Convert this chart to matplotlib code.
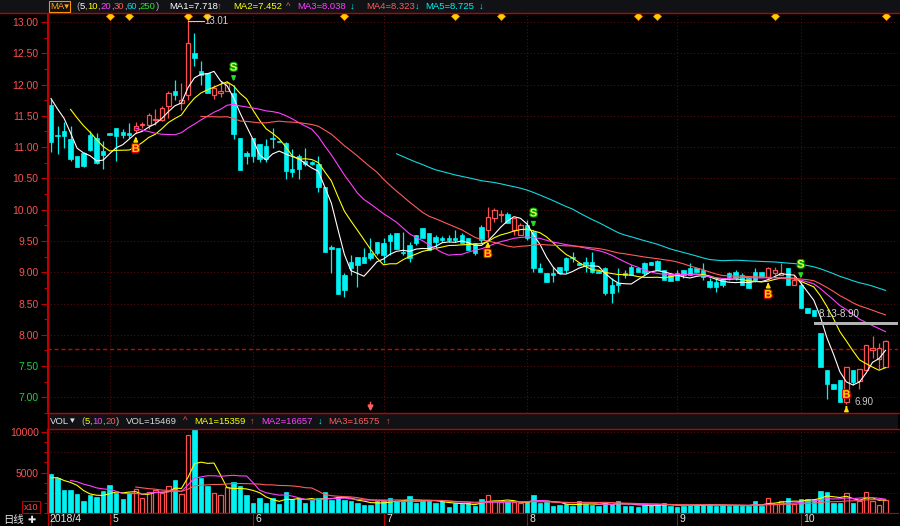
import numpy as np
import pandas as pd
import matplotlib.pyplot as plt
import matplotlib.patheffects as pe
from matplotlib.lines import Line2D
from matplotlib.patches import Rectangle

# ---- daily K-line data (visible window, 2018/4 .. 2018/10) ----
opens = [11.68, 11.20, 11.26, 11.13, 10.85, 10.90, 11.20, 11.15, 10.93, 11.23,
         11.30, 11.24, 11.22, 11.28, 11.35, 11.36, 11.43, 11.44, 11.66, 11.89,
         11.70, 11.84, 12.51, 12.21, 12.18, 11.83, 11.86, 11.89, 11.87, 11.15,
         10.90, 11.15, 11.05, 11.02, 11.15, 11.10, 11.07, 10.65, 10.86, 10.78,
         10.76, 10.73, 10.36, 9.40, 9.39, 8.95, 9.16, 9.25, 9.25, 9.30,
         9.49, 9.46, 9.60, 9.62, 9.33, 9.44, 9.59, 9.70, 9.62, 9.56,
         9.55, 9.54, 9.55, 9.59, 9.54, 9.46, 9.72, 9.67, 9.86, 9.91,
         9.93, 9.67, 9.59, 9.75, 9.65, 9.06, 8.98, 8.99, 9.09, 9.22,
         9.25, 9.14, 9.16, 9.17, 9.02, 9.06, 8.79, 8.83, 8.99, 9.08,
         9.06, 9.14, 9.17, 9.18, 9.04, 8.96, 8.98, 9.04, 9.06, 9.06,
         9.04, 8.86, 8.84, 8.87, 8.98, 9.01, 8.96, 8.90, 9.01, 9.00,
         8.93, 8.98, 8.96, 9.06, 8.80, 8.80, 8.43, 8.40, 8.03, 7.43,
         7.21, 7.27, 6.93, 7.43, 7.26, 7.43, 7.76, 7.61, 7.48]
highs = [11.77, 11.34, 11.40, 11.34, 10.85, 10.92, 11.25, 11.23, 11.10, 11.23,
         11.31, 11.29, 11.39, 11.40, 11.40, 11.55, 11.61, 11.66, 11.89, 12.08,
         12.02, 13.01, 12.82, 12.37, 12.18, 12.00, 12.05, 12.05, 12.00, 11.15,
         10.94, 11.15, 11.05, 11.13, 11.31, 11.10, 11.08, 10.97, 10.89, 10.99,
         10.78, 10.86, 10.36, 9.43, 9.39, 8.99, 9.27, 9.25, 9.38, 9.54,
         9.49, 9.55, 9.62, 9.62, 9.65, 9.49, 9.59, 9.70, 9.62, 9.59,
         9.58, 9.59, 9.67, 9.62, 9.54, 9.46, 9.75, 10.04, 10.03, 9.99,
         9.96, 9.86, 9.78, 9.83, 9.67, 9.14, 8.98, 9.09, 9.09, 9.25,
         9.33, 9.14, 9.25, 9.33, 9.02, 9.09, 8.90, 9.06, 9.04, 9.12,
         9.06, 9.17, 9.17, 9.20, 9.04, 8.96, 9.04, 9.04, 9.14, 9.06,
         9.14, 8.90, 8.93, 8.90, 9.01, 9.04, 8.98, 8.90, 9.07, 9.00,
         9.09, 9.09, 9.14, 9.06, 8.96, 8.85, 8.43, 8.40, 8.03, 7.43,
         7.21, 7.27, 7.49, 7.43, 7.45, 7.83, 7.98, 7.87, 7.92]
lows = [10.92, 10.89, 10.98, 10.78, 10.68, 10.68, 10.93, 10.73, 10.65, 11.19,
        10.78, 11.15, 11.15, 11.22, 11.30, 11.29, 11.36, 11.42, 11.47, 11.76,
        11.60, 11.76, 12.29, 12.00, 11.87, 11.77, 11.80, 11.89, 11.13, 10.64,
        10.73, 10.76, 10.76, 10.76, 10.99, 11.08, 10.49, 10.52, 10.49, 10.70,
        10.72, 10.28, 9.33, 8.98, 8.65, 8.61, 8.96, 8.77, 9.14, 9.20,
        9.27, 9.14, 9.28, 9.37, 9.27, 9.17, 9.43, 9.55, 9.35, 9.38,
        9.49, 9.49, 9.49, 9.46, 9.35, 9.27, 9.46, 9.54, 9.80, 9.80,
        9.78, 9.59, 9.59, 9.51, 9.01, 9.01, 8.85, 8.85, 8.97, 8.99,
        9.17, 9.12, 9.01, 8.98, 8.98, 8.64, 8.51, 8.69, 8.90, 8.96,
        9.01, 8.96, 9.12, 9.04, 8.88, 8.86, 8.88, 8.90, 8.96, 9.01,
        8.88, 8.75, 8.69, 8.77, 8.88, 8.88, 8.80, 8.75, 8.85, 8.92,
        8.89, 8.96, 8.96, 8.80, 8.80, 8.43, 8.35, 8.30, 7.48, 6.97,
        7.13, 6.92, 6.90, 7.19, 7.13, 7.43, 7.63, 7.45, 7.48]
closes = [11.08, 11.17, 11.17, 10.81, 10.68, 10.70, 10.95, 10.75, 10.88, 11.19,
          11.18, 11.19, 11.20, 11.33, 11.36, 11.52, 11.45, 11.63, 11.87, 11.83,
          11.75, 12.66, 12.42, 12.16, 11.87, 11.94, 11.90, 12.03, 11.21, 10.64,
          10.86, 10.85, 10.81, 10.81, 11.13, 11.08, 10.62, 10.60, 10.65, 10.73,
          10.73, 10.36, 9.33, 9.37, 8.65, 8.71, 9.06, 9.12, 9.14, 9.22,
          9.30, 9.28, 9.50, 9.37, 9.30, 9.22, 9.46, 9.55, 9.35, 9.49,
          9.51, 9.52, 9.52, 9.46, 9.35, 9.30, 9.51, 9.88, 9.99, 9.93,
          9.78, 9.86, 9.75, 9.54, 9.06, 9.01, 8.85, 8.96, 8.99, 9.04,
          9.22, 9.12, 9.13, 9.01, 8.98, 8.67, 8.67, 8.80, 8.96, 8.96,
          9.01, 8.99, 9.12, 9.04, 8.88, 8.86, 8.88, 8.96, 8.96, 9.01,
          8.93, 8.77, 8.77, 8.80, 8.93, 8.90, 8.80, 8.75, 8.88, 8.92,
          9.06, 9.04, 8.99, 8.80, 8.88, 8.43, 8.35, 8.30, 7.48, 7.21,
          7.13, 6.92, 7.49, 7.24, 7.45, 7.83, 7.79, 7.79, 7.90]
# volume in axis units (x10)
vols = [4810, 4270, 2810, 2810, 2310, 1500, 2190, 1980, 2690, 3440,
        2480, 1690, 2480, 2940, 1770, 2560, 2850, 2480, 3310, 4060,
        2310, 9690, 11060, 4350, 3310, 2500, 2190, 3150, 3850, 3350,
        2190, 1230, 1770, 1150, 1770, 1040, 2520, 1650, 1770, 1230,
        1560, 1770, 2520, 1560, 1900, 1560, 1480, 1230, 960, 960,
        1400, 1400, 1810, 1400, 1400, 2010, 1230, 1560, 1400, 1230,
        1400, 650, 1230, 1040, 1150, 810, 1690, 2190, 1400, 1270,
        1270, 1270, 1230, 1270, 2190, 1230, 1270, 810, 960, 1040,
        810, 1480, 1040, 960, 810, 1230, 1040, 1480, 810, 810,
        650, 1040, 900, 1040, 1150, 810, 730, 810, 960, 1040,
        900, 1040, 810, 900, 850, 900, 850, 810, 1400, 810,
        1770, 1040, 1480, 1770, 1040, 1710, 1710, 1690, 2710, 2520,
        1230, 1230, 2480, 1230, 1480, 2600, 1400, 900, 1547]
# earlier sessions (off screen) - only used to seed the moving averages
prev_closes = [12.05, 11.95, 12.00, 11.92, 11.98, 11.90]
prev_vols = [4000, 4500, 4200, 4600, 4000, 4100]

month_starts = [0, 9, 31, 51, 73, 96, 115]
month_labels = ['2018/4', '5', '6', '7', '8', '9', '10']
buy_idx = [13, 67, 110, 122]
sell_idx = [28, 74, 115]
flag_idx = [9, 12, 21, 24, 45, 62, 69, 90, 93, 111, 128]
ref_price = 7.77
range_text = '8.13-8.90'
range_level = 8.185

ma_periods = [5, 10, 20, 30, 60]
vol_periods = [5, 10, 20]

# ---- colours ----
BG = 'black'
RED = '#ff5050'
CYAN = '#00f2f2'
FRAME = '#c00000'
GRID = '#5a0a0a'
YEL = '#ffff00'
MAG = '#ff40ff'
SAL = '#ff5a5a'
ma_colors = ['white', YEL, MAG, SAL, '#10d8e0']
vol_colors = [YEL, MAG, SAL]
FONT = ['Liberation Sans', 'DejaVu Sans']

W, H = 900, 526
fig = plt.figure(figsize=(W / 100, H / 100), dpi=100, facecolor=BG)


def fx(px):
    return px / W


def fy(py):
    return 1 - py / H


o = np.array(opens); h = np.array(highs); l = np.array(lows); c = np.array(closes)
v = np.array(vols)
n = len(c)
x = np.arange(n)
up = c >= o
body_lo = np.minimum(o, c)
body_h = np.maximum(np.abs(c - o), 0.012)

npre = len(prev_closes)
cl_all = pd.Series(prev_closes + closes)
vo_all = pd.Series(prev_vols + vols, dtype=float)

# x range: first candle at 51px, 6.52px per session, axes from 47px to 898px
step = 6.52
xlim = (-(51 - 47) / step, (898 - 51) / step)

# ---- price panel ----
ax = fig.add_axes([fx(47), fy(413), fx(898) - fx(47), 400 / H])
ax.set_facecolor(BG)
ax.set_xlim(*xlim)
ax.set_ylim(6.794, 13.143)

yt = np.arange(7.0, 13.01, 0.5)
for yv in yt:
    ax.axhline(yv, color=GRID, lw=0.8, ls=(0, (1, 2)), zorder=0)
for m in month_starts[1:]:
    ax.axvline(m, color=GRID, lw=0.8, ls=(0, (1, 2)), zorder=0)
ax.axhline(ref_price, color='#d00000', lw=1.0, ls=(0, (3, 2)), zorder=1)

cols = np.where(up, RED, CYAN)
ax.vlines(x, l, h, colors=cols, lw=0.9, zorder=2)
ax.bar(x[up], body_h[up], bottom=body_lo[up], width=0.68, facecolor=BG,
       edgecolor=RED, lw=0.9, zorder=3)
ax.bar(x[~up], body_h[~up], bottom=body_lo[~up], width=0.68, facecolor=CYAN,
       edgecolor=CYAN, lw=0.5, zorder=3)

for p, col in zip(ma_periods, ma_colors):
    ma = cl_all.rolling(p).mean().to_numpy()[npre:]
    ok = ~np.isnan(ma)
    ax.plot(x[ok], ma[ok], color=col, lw=0.8, zorder=4)

# buy / sell signals
for i in buy_idx:
    lo = l[i]
    if lo - 0.3 < ax.get_ylim()[0]:
        ax.annotate('', xy=(i, lo), xytext=(i, lo - 0.1),
                    arrowprops=dict(arrowstyle='-|>', color='#ffe000', lw=1.2,
                                    mutation_scale=6), zorder=6)
        by = lo + 0.14
    else:
        ax.annotate('', xy=(i, lo - 0.01), xytext=(i, lo - 0.14),
                    arrowprops=dict(arrowstyle='-|>', color='#ffe000', lw=1.2,
                                    mutation_scale=6), zorder=6)
        by = lo - 0.25
    ax.text(i, by, 'B', color='#ffe000', fontsize=8, fontweight='bold',
            ha='center', va='center', family=FONT, zorder=7,
            path_effects=[pe.withStroke(linewidth=1.6, foreground='#e00000')])
for i in sell_idx:
    hi = h[i]
    ax.annotate('', xy=(i, hi + 0.01), xytext=(i, hi + 0.14),
                arrowprops=dict(arrowstyle='-|>', color='#20e020', lw=1.2,
                                mutation_scale=6), zorder=6)
    ax.text(i, hi + 0.27, 'S', color='#e8ff50', fontsize=8, fontweight='bold',
            ha='center', va='center', family=FONT, zorder=7,
            path_effects=[pe.withStroke(linewidth=1.6, foreground='#00a000')])

ax.plot(flag_idx, [13.095] * len(flag_idx), ls='none', marker='D', ms=3.6,
        mfc='#ffd000', mec='#ff8000', mew=0.5, clip_on=False, zorder=6)

# highest / lowest price notes
ih = int(np.argmax(h))
ax.plot([ih, ih + 2.4], [h[ih], h[ih]], color='#d0d0d0', lw=0.8, zorder=5)
ax.text(ih + 2.5, h[ih], f'{h[ih]:.2f}', color='#d0d0d0', fontsize=7,
        va='center', ha='left', family=FONT, zorder=6)
il = int(np.argmin(l))
ax.text(il + 1.3, l[il] + 0.02, f'{l[il]:.2f}', color='#c8c8c8', fontsize=7,
        va='center', ha='left', family=FONT, zorder=6)

# range marker on the right
ax.add_patch(Rectangle((117, range_level - 0.025), xlim[1] - 117, 0.05,
                       facecolor='#b4b4b4', edgecolor='none', zorder=5,
                       clip_on=False))
ax.text(117.8, range_level + 0.14, range_text, color='#d8d8d8', fontsize=7,
        va='center', ha='left', family=FONT, zorder=6)

# small marker near the bottom
ax.plot([49, 49], [6.93, 6.86], color='#ff6060', lw=1, zorder=6)
ax.plot([49], [6.84], ls='none', marker='v', ms=3.5, color='#ff6060', zorder=6)

ax.set_yticks(yt)
ax.set_yticklabels([f'{t:.2f}' for t in yt], family=FONT, fontsize=7.5)
for lab, t in zip(ax.get_yticklabels(), yt):
    lab.set_color(RED if t >= ref_price else '#20d040')
ax.set_yticks(np.arange(6.75, 13.2, 0.25), minor=True)
ax.tick_params(axis='y', which='major', color=FRAME, length=4, width=0.8, pad=2)
ax.tick_params(axis='y', which='minor', color=FRAME, length=2.5, width=0.8)
ax.set_xticks([])
for s in ['top', 'right', 'bottom']:
    ax.spines[s].set_visible(False)
ax.spines['left'].set_color(FRAME)

# ---- volume panel ----
axv = fig.add_axes([fx(47), fy(513), fx(898) - fx(47), 84 / H])
axv.set_facecolor(BG)
axv.set_xlim(*xlim)
axv.set_ylim(-62, 10437)
for yv in [2500, 5000, 7500, 10000]:
    axv.axhline(yv, color=GRID, lw=0.8, ls=(0, (1, 2)), zorder=0)
for m in month_starts[1:]:
    axv.axvline(m, color=GRID, lw=0.8, ls=(0, (1, 2)), zorder=0)
axv.bar(x[up], v[up], width=0.68, facecolor=BG, edgecolor=RED, lw=0.9, zorder=2)
axv.bar(x[~up], v[~up], width=0.68, facecolor=CYAN, edgecolor=CYAN, lw=0.5,
        zorder=2)
for p, col in zip(vol_periods, vol_colors):
    ma = vo_all.rolling(p).mean().to_numpy()[npre:]
    ok = ~np.isnan(ma)
    axv.plot(x[ok], ma[ok], color=col, lw=0.8, zorder=3)
axv.set_yticks([5000, 10000])
axv.set_yticklabels(['5000', '10000'], family=FONT, fontsize=7.5, color=RED)
axv.set_yticks(np.arange(0, 10500, 1250), minor=True)
axv.tick_params(axis='y', which='major', color=FRAME, length=4, width=0.8, pad=2)
axv.tick_params(axis='y', which='minor', color=FRAME, length=2.5, width=0.8)
axv.set_xticks(month_starts)
axv.tick_params(axis='x', color=FRAME, length=12, width=0.8, direction='out',
                labelbottom=False)
for s in ['top', 'right']:
    axv.spines[s].set_visible(False)
axv.spines['left'].set_color(FRAME)
axv.spines['bottom'].set_color(FRAME)
for m, lab in zip(month_starts, month_labels):
    axv.text(m + 0.4 if m else m - 0.2, -0.075, lab, transform=axv.get_xaxis_transform(),
             color='#e8e8e8', fontsize=7.5, va='center', ha='left', family=FONT)
fig.text(fx(31), fy(507), 'x10', color=RED, fontsize=6.5, ha='center',
         va='center', family=FONT,
         bbox=dict(boxstyle='square,pad=0.15', fc=BG, ec=FRAME, lw=0.8))
fig.text(fx(3), fy(520), '日线', color='#e8e8e8', fontsize=7.5, ha='left',
         va='center', family=['Noto Sans CJK SC', 'DejaVu Sans'])
fig.text(fx(27), fy(520), '✚', color='#e8e8e8', fontsize=7, ha='left',
         va='center', family=['DejaVu Sans'])

# ---- header bars ----
fig.patches.append(Rectangle((0, fy(12.5)), 1, 1 - fy(12.5), transform=fig.transFigure,
                             facecolor='#101216', edgecolor='none', zorder=0))
fig.patches.append(Rectangle((fx(47), fy(429)), fx(898) - fx(47), (429 - 413) / H,
                             transform=fig.transFigure, facecolor='#101216',
                             edgecolor='none', zorder=0))
for yy in [13, 413, 429]:
    fig.add_artist(Line2D([fx(47) if yy != 13 else 0, 1], [fy(yy), fy(yy)],
                          color=FRAME, lw=1))
fig.add_artist(Line2D([fx(47.5), fx(47.5)], [fy(13), 0], color=FRAME, lw=1))


def t(px, py, s, col, fs=6.8, **kw):
    fig.text(fx(px), fy(py), s, color=col, fontsize=fs, ha='left', va='center',
             family=FONT, **kw)


t(50, 6.5, 'MA▾', '#ffa020', bbox=dict(boxstyle='square,pad=0.15', fc='none',
                                        ec='#ff9000', lw=0.8))
rdr = fig.canvas.get_renderer()
xx = 76
for s, col in [('(', '#b0b0b0'), ('5', 'white'), (',', '#b0b0b0'), ('10', YEL),
               (',', '#b0b0b0'), ('20', MAG), (',', '#b0b0b0'), ('30', SAL),
               (',', '#b0b0b0'), ('60', '#10d8e0'), (',', '#b0b0b0'),
               ('250', '#30e030'), (')', '#b0b0b0')]:
    tt = fig.text(fx(xx), fy(6.5), s, color=col, fontsize=6.8, ha='left',
                  va='center', family=FONT)
    xx = tt.get_window_extent(rdr).x1
t(169, 6.5, 'MA1=7.718', 'white')
t(217, 6.5, '↑', RED)
t(233, 6.5, 'MA2=7.452', YEL)
t(286, 6.5, '^', RED)
t(297, 6.5, 'MA3=8.038', MAG)
t(350, 6.5, '↓', CYAN)
t(366, 6.5, 'MA4=8.323', SAL)
t(415, 6.5, '↓', CYAN)
t(425, 6.5, 'MA5=8.725', CYAN)
t(479, 6.5, '↓', CYAN)

t(50, 421, 'VOL', '#e0e0e0')
t(70, 421, '▾', '#e0e0e0')
xx = 81
for s, col in [('(', '#c0c0a0'), ('5', YEL), (',', '#c0c0a0'), ('10', MAG),
               (',', '#c0c0a0'), ('20', SAL), (')', '#c0c0a0')]:
    tt = fig.text(fx(xx), fy(421), s, color=col, fontsize=6.8, ha='left',
                  va='center', family=FONT)
    xx = tt.get_window_extent(rdr).x1
t(126, 421, 'VOL=15469', '#d8d8d8')
t(183, 421, '^', RED)
t(194, 421, 'MA1=15359', YEL)
t(250, 421, '↑', RED)
t(261, 421, 'MA2=16657', MAG)
t(318, 421, '↓', CYAN)
t(328, 421, 'MA3=16575', SAL)
t(386, 421, '↑', RED)

fig.savefig('out.png', dpi=100, facecolor=BG)
